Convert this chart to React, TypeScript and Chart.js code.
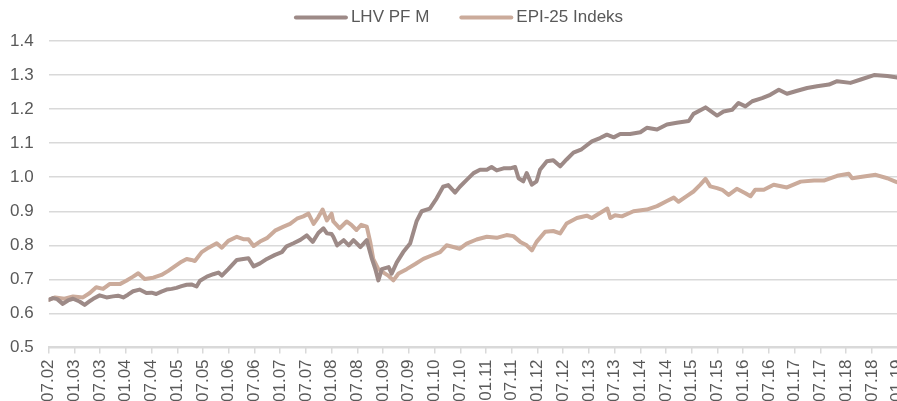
import React, { useEffect, useRef } from "react";
import { Chart, registerables } from "chart.js";

Chart.register(...registerables);

const tickLabels = [
  "07.02", "01.03", "07.03", "01.04", "07.04", "01.05", "07.05", "01.06", "07.06",
  "01.07", "07.07", "01.08", "07.08", "01.09", "07.09", "01.10", "07.10", "01.11",
  "07.11", "01.12", "07.12", "01.13", "07.13", "01.14", "07.14", "01.15", "07.15",
  "01.16", "07.16", "01.17", "07.17", "01.18", "07.18", "01.19",
];

const seriesNames = ["LHV PF M", "EPI-25 Indeks"];
const seriesColors = ["#9d8a87", "#cbab9b"];

// months since July 2002
const lhvMonths = [
  0, 1, 2, 3.3, 4.5, 5.7, 7.2, 8.4, 9.5, 10.4, 11.9, 13.5, 15, 16.2, 17.4, 18.5, 19.7, 21.2,
  22.8, 24, 25.1, 26.3, 27.5, 28.7, 29.8, 31, 32.2, 33.3, 34.5, 35.3, 36.9, 38.4, 39.6, 40.4,
  41.9, 43.9, 45.4, 46.6, 47.8, 49.3, 50.9, 52.8, 54.4, 55.5, 57.1, 58.7, 60.2, 61.6, 62.9,
  64.1, 64.9, 66, 66.4, 67.3, 68.8, 70, 71.1, 72.7, 74.2, 75.4, 76.2, 76.9, 77.7, 79.3, 80,
  81.2, 82.7, 84.3, 85.8, 87, 88.9, 90.5, 92, 93.2, 94.8, 95.9, 97.5, 99.1, 100.6, 102.2,
  103.3, 104.5, 106.1, 107.6, 108.8, 109.6, 110.7, 111.5, 112.7, 113.8, 114.6, 116.2, 117.7,
  119.3, 120.8, 122.4, 124.3, 126.7, 128.6, 130.2, 131.8, 133.3, 135.6, 138, 139.5, 141.9,
  144.2, 146.5, 149.3, 150.4, 153.2, 155.9, 157.4, 159.4, 160.9, 162.5, 164.1, 166.4, 168.3,
  170.3, 172.2, 174.6, 176.9, 179.2, 182, 183.9, 187, 189.4, 192.5, 195.6, 198.3,
];
const lhvValues = [
  0.640, 0.645, 0.642, 0.628, 0.638, 0.643, 0.635, 0.625, 0.635, 0.643, 0.653, 0.647, 0.650,
  0.652, 0.647, 0.655, 0.665, 0.670, 0.660, 0.661, 0.657, 0.664, 0.670, 0.672, 0.675, 0.680,
  0.684, 0.685, 0.679, 0.696, 0.708, 0.715, 0.720, 0.711, 0.730, 0.757, 0.760, 0.762, 0.738,
  0.747, 0.760, 0.772, 0.780, 0.797, 0.806, 0.816, 0.829, 0.810, 0.836, 0.850, 0.835, 0.833,
  0.825, 0.800, 0.815, 0.800, 0.815, 0.795, 0.815, 0.760, 0.730, 0.697, 0.730, 0.736, 0.717,
  0.750, 0.780, 0.805, 0.870, 0.900, 0.908, 0.938, 0.972, 0.977, 0.955, 0.972, 0.992, 1.012,
  1.022, 1.022, 1.030, 1.020, 1.026, 1.026, 1.030, 0.997, 0.988, 1.012, 0.978, 0.988, 1.022,
  1.047, 1.050, 1.032, 1.052, 1.072, 1.082, 1.105, 1.115, 1.125, 1.117, 1.127, 1.127, 1.132,
  1.145, 1.140, 1.155, 1.160, 1.165, 1.186, 1.205, 1.181, 1.193, 1.198, 1.218, 1.208, 1.223,
  1.232, 1.242, 1.257, 1.245, 1.254, 1.262, 1.267, 1.272, 1.282, 1.277, 1.287, 1.300, 1.297,
  1.292,
];

const epiMonths = [
  0, 1.5, 3.7, 5.7, 8, 9.6, 11.1, 12.7, 14.2, 16.6, 18.1, 19.7, 20.9, 22.4, 24.4, 26.3, 27.9,
  29.4, 31, 32.2, 33.3, 34.1, 35.7, 37.3, 39.2, 40.4, 41.9, 43.9, 45.4, 46.6, 47.8, 49.3, 50.9,
  52.8, 54.8, 56.3, 57.9, 59.4, 60.6, 61.8, 62.9, 63.9, 64.9, 66, 66.4, 67.9, 69.5, 70.6, 71.8,
  72.9, 74.2, 75, 75.7, 76.9, 78.1, 79.3, 80.4, 81.6, 83.5, 85.5, 87.4, 89.3, 91.3, 92.8, 94.4,
  95.9, 97.5, 99.8, 102.2, 104.5, 106.8, 108.4, 110, 111.5, 112.7, 113.8, 115.8, 117.7, 119.3,
  120.8, 123.2, 125.5, 126.7, 128.6, 130.3, 131, 132.1, 133.7, 136.4, 139.5, 141.9, 144.2,
  145.8, 146.9, 148.9, 150.4, 152, 153.2, 154.3, 155.9, 157.1, 158.6, 160.5, 162.5, 163.7,
  164.8, 166.8, 169.1, 172.2, 175.4, 178.5, 180.8, 183.9, 186.6, 187.4, 190.1, 192.9, 195.6,
  197.5, 198.3,
];
const epiValues = [
  0.640, 0.647, 0.643, 0.650, 0.647, 0.660, 0.677, 0.672, 0.686, 0.686, 0.696, 0.708, 0.718,
  0.701, 0.705, 0.713, 0.725, 0.738, 0.752, 0.760, 0.757, 0.754, 0.780, 0.793, 0.806, 0.793,
  0.813, 0.825, 0.818, 0.818, 0.798, 0.811, 0.821, 0.843, 0.855, 0.863, 0.878, 0.885, 0.893,
  0.863, 0.883, 0.905, 0.873, 0.893, 0.870, 0.850, 0.870, 0.860, 0.845, 0.860, 0.855, 0.810,
  0.760, 0.730, 0.720, 0.710, 0.697, 0.717, 0.730, 0.745, 0.760, 0.770, 0.780, 0.800, 0.795,
  0.790, 0.805, 0.817, 0.825, 0.822, 0.830, 0.827, 0.810, 0.800, 0.785, 0.810, 0.840, 0.842,
  0.835, 0.864, 0.880, 0.887, 0.880, 0.895, 0.908, 0.880, 0.888, 0.885, 0.900, 0.905, 0.915,
  0.930, 0.940, 0.928, 0.945, 0.958, 0.978, 0.995, 0.973, 0.968, 0.963, 0.948, 0.966, 0.953,
  0.944, 0.963, 0.963, 0.978, 0.970, 0.987, 0.990, 0.990, 1.004, 1.010, 0.997, 1.002, 1.007,
  0.997, 0.987, 0.983,
];

const FONT = '"Liberation Sans", Arial, Helvetica, sans-serif';
const TEXT_COLOR = "#595959";
const GRID_COLOR = "#d9d9d9";

const legendPlugin = {
  id: "topLineLegend",
  afterDraw(chart: any) {
    const ctx = chart.ctx as CanvasRenderingContext2D;
    ctx.save();
    ctx.font = `17px ${FONT}`;
    const lineW = 50;
    const gap = 5;
    const spacing = 32;
    const items = chart.data.datasets.map((ds: any) => ({
      text: ds.label as string,
      color: ds.borderColor as string,
      w: ctx.measureText(ds.label).width,
    }));
    const total =
      items.reduce((s: number, it: any) => s + lineW + gap + it.w, 0) + spacing * (items.length - 1);
    let x = chart.width / 2 - total / 2 + 1;
    const y = 9.5;
    for (const it of items) {
      ctx.strokeStyle = it.color;
      ctx.lineWidth = 4;
      ctx.lineCap = "round";
      ctx.beginPath();
      ctx.moveTo(x, y);
      ctx.lineTo(x + lineW, y);
      ctx.stroke();
      ctx.fillStyle = TEXT_COLOR;
      ctx.textBaseline = "middle";
      ctx.textAlign = "left";
      ctx.fillText(it.text, x + lineW + gap, y);
      x += lineW + gap + it.w + spacing;
    }
    ctx.restore();
  },
};

export default function App() {
  const canvasRef = useRef<HTMLCanvasElement | null>(null);

  useEffect(() => {
    if (!canvasRef.current) return;
    const lhvPoints = lhvMonths.map((m, i) => ({ x: m, y: lhvValues[i] }));
    const epiPoints = epiMonths.map((m, i) => ({ x: m, y: epiValues[i] }));
    const chart = new Chart(canvasRef.current, {
      type: "line",
      data: {
        datasets: [
          {
            label: seriesNames[0],
            data: lhvPoints,
            borderColor: seriesColors[0],
            backgroundColor: seriesColors[0],
            borderWidth: 4,
            pointRadius: 0,
            tension: 0,
            borderJoinStyle: "round",
            borderCapStyle: "round",
          },
          {
            label: seriesNames[1],
            data: epiPoints,
            borderColor: seriesColors[1],
            backgroundColor: seriesColors[1],
            borderWidth: 4,
            pointRadius: 0,
            tension: 0,
            borderJoinStyle: "round",
            borderCapStyle: "round",
          },
        ],
      },
      options: {
        animation: false,
        responsive: true,
        maintainAspectRatio: false,
        layout: { padding: { top: 33, left: 2, right: 0, bottom: 0 } },
        plugins: {
          legend: { display: false },
          tooltip: { enabled: false },
        },
        scales: {
          x: {
            type: "linear",
            min: 0,
            max: 198.4,
            afterBuildTicks: (axis: any) => {
              axis.ticks = tickLabels.map((_, i) => ({ value: i * 6 }));
            },
            ticks: {
              callback: (v: any) => tickLabels[Math.round(Number(v) / 6)] ?? "",
              minRotation: 90,
              maxRotation: 90,
              autoSkip: false,
              padding: 6,
              color: TEXT_COLOR,
              font: { size: 17, family: FONT },
            },
            grid: {
              drawOnChartArea: false,
              drawTicks: true,
              tickLength: 6,
              color: GRID_COLOR,
              lineWidth: 1.5,
            },
            border: { display: true, color: GRID_COLOR, width: 2 },
          },
          y: {
            min: 0.5,
            max: 1.4,
            ticks: {
              stepSize: 0.1,
              callback: (v: any) => Number(v).toFixed(1),
              padding: 15,
              color: TEXT_COLOR,
              font: { size: 17, family: FONT },
            },
            grid: { color: GRID_COLOR, lineWidth: 1.5, drawTicks: false },
            border: { display: false },
          },
        },
      },
      plugins: [legendPlugin],
    });
    return () => chart.destroy();
  }, []);

  return (
    <div style={{ position: "fixed", left: -7, top: 8, width: 931, height: 400 }}>
      <canvas ref={canvasRef} />
    </div>
  );
}
